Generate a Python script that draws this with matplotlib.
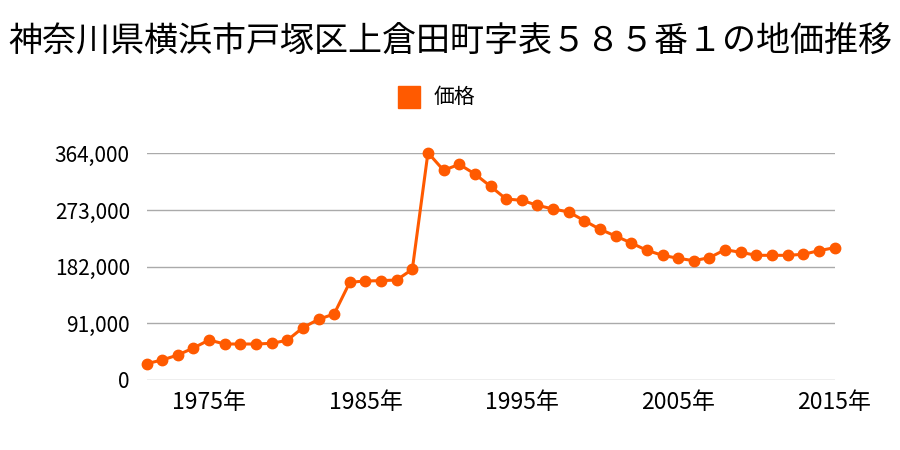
import matplotlib
matplotlib.use("Agg")
import matplotlib.pyplot as plt

plt.rcParams['font.family'] = ['Noto Sans CJK JP', 'DejaVu Sans']

years = list(range(1971, 2016))
prices = [26200, 32100, 40100, 51400, 64200, 57800, 57800, 57800, 58900, 63700,
          84000, 97400, 106000, 156900, 159000, 159500, 160600, 177700, 365000, 336700,
          346300, 330800, 311000, 290600, 288500, 280500, 274600, 269800, 255800, 242000,
          231200, 220000, 208200, 200200, 195400, 191600, 196400, 209200, 205000, 200200,
          200200, 200200, 201800, 207600, 212400]
yticks = [0, 91000, 182000, 273000, 364000]
xticks = [1975, 1985, 1995, 2005, 2015]
title = "神奈川県横浜市戸塚区上倉田町字表５８５番１の地価推移"
series_name = "価格"

color = "#ff5a00"
fig = plt.figure(figsize=(9, 4.5), dpi=100)
ax = fig.add_axes([146.5/900, 70/450, 688/900, 226.7/450])
ax.plot(years, prices, color=color, lw=2.2, marker='o', markersize=7.5, clip_on=False, zorder=3)
ax.set_xlim(1971, 2015)
ax.set_ylim(0, 364000)
ax.set_yticks(yticks)
ax.set_yticklabels([f"{v:,}" for v in yticks], fontsize=15)
ax.set_xticks(xticks)
ax.set_xticklabels([f"{y}年" for y in xticks], fontsize=16.5)
ax.grid(axis='y', color='#aaaaaa', lw=1)
ax.set_axisbelow(True)
for s in ax.spines.values():
    s.set_visible(False)
ax.tick_params(axis='y', length=0, pad=12)
ax.tick_params(axis='x', length=0, pad=8)

fig.text(0.5, 1 - 42/450, title, ha='center', va='center', fontsize=24.5)
fig.patches.append(plt.Rectangle((398/900, 1 - 108/450), 22/900, 22/450,
                                 transform=fig.transFigure, color=color, figure=fig))
fig.text(434/900, 1 - 97/450, series_name, ha='left', va='center', fontsize=15)

fig.savefig("out.png", dpi=100)
